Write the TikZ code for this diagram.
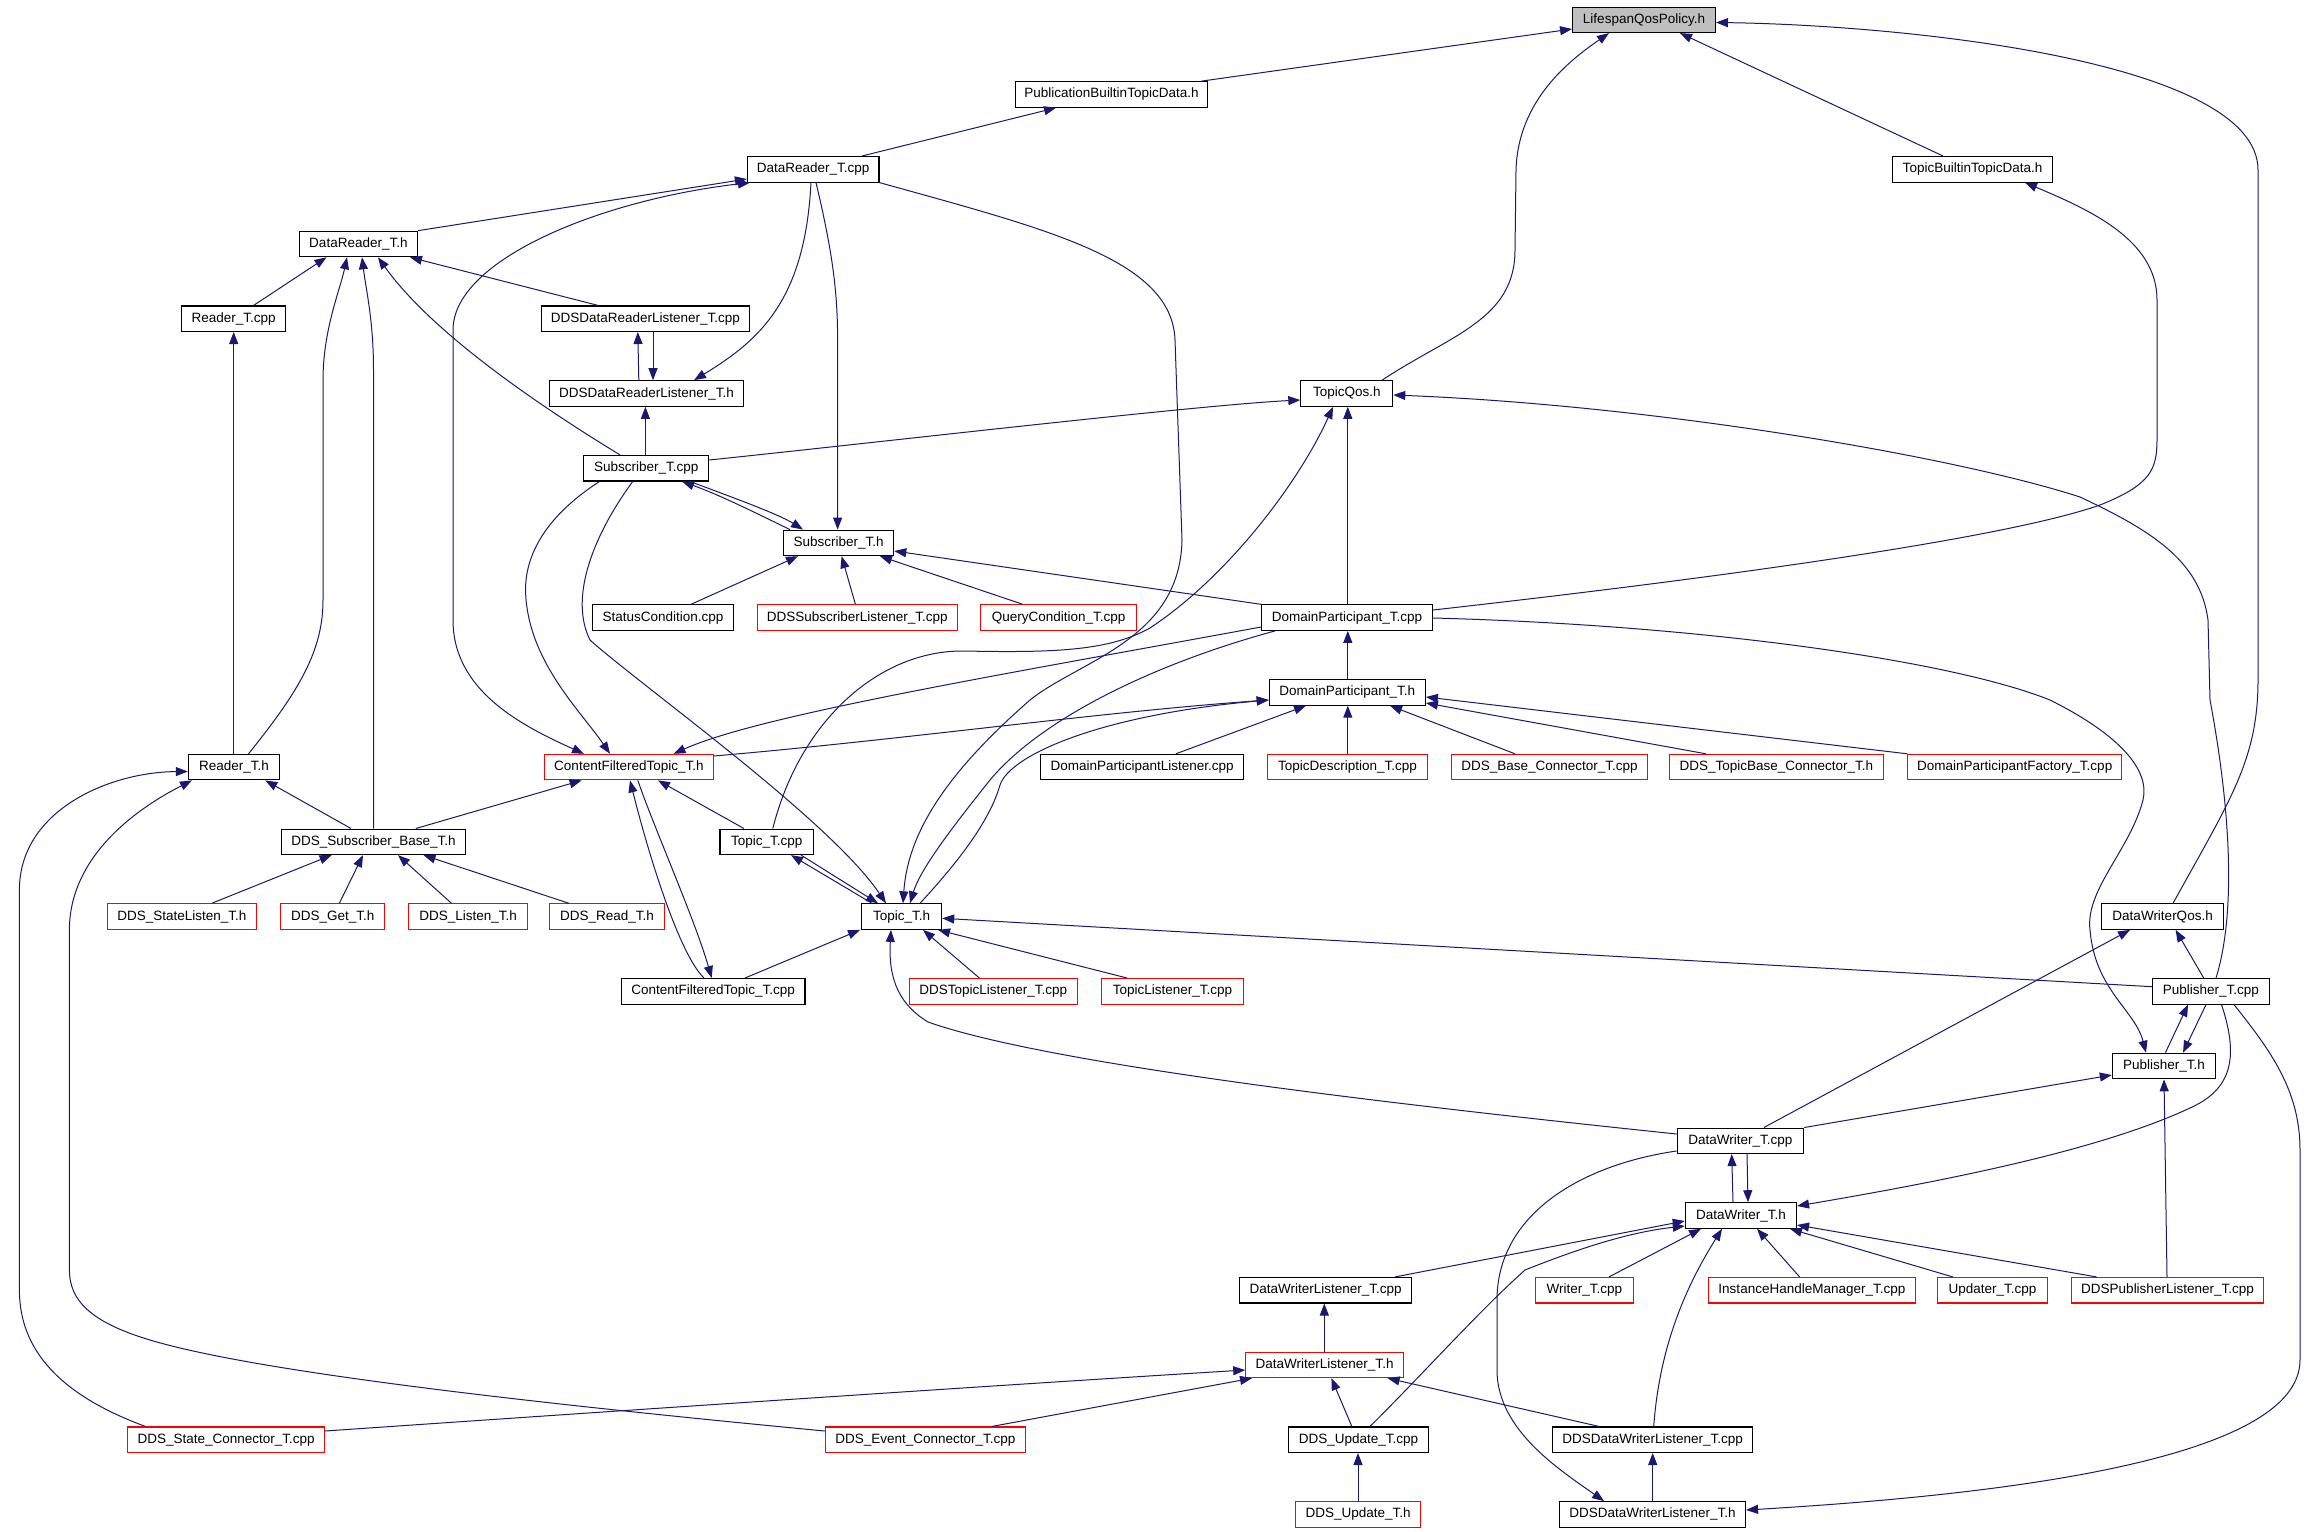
\documentclass[tikz,border=0pt]{standalone}
\usepackage{fontspec}
\setmainfont{Liberation Sans}
\usetikzlibrary{arrows.meta}
\definecolor{dblue}{RGB}{25,25,112}
\definecolor{rd}{RGB}{255,0,0}
\definecolor{lgray}{RGB}{191,191,191}
\tikzset{
 filebox/.style={draw=black, fill=white, line width=1.1pt, minimum height=25.5pt, inner sep=0pt, font=\fontsize{13.5}{15}\selectfont, text=black},
 redbox/.style={filebox, draw=rd},
 incl/.style={draw=dblue, line width=1pt, -{Triangle[length=12pt,width=9pt]}},
 incl2/.style={draw=dblue, line width=1pt, {Triangle[length=12pt,width=9pt]}-{Triangle[length=12pt,width=9pt]}},
}
\begin{document}
\begin{tikzpicture}[x=1pt,y=-1pt]
\fill[white] (0,0) rectangle (2320,1531);
\useasboundingbox (0,0) rectangle (2320,1531);
% nodes
\node[filebox,fill=lgray,minimum width=142.8pt] (life) at (1644,19.8) {LifespanQosPolicy.h};
\node[filebox,minimum width=191.8pt] (pub) at (1111.5,94.5) {PublicationBuiltinTopicData.h};
\node[filebox,minimum width=160.3pt] (tbt) at (1972.5,169.3) {TopicBuiltinTopicData.h};
\node[filebox,minimum width=131.5pt] (drcpp) at (813.2,169.3) {DataReader\_T.cpp};
\node[filebox,minimum width=117.8pt] (drh) at (358.4,244.0) {DataReader\_T.h};
\node[filebox,minimum width=104.1pt] (rcpp) at (233.7,318.7) {Reader\_T.cpp};
\node[filebox,minimum width=208.2pt] (ddrlcpp) at (645.4,318.7) {DDSDataReaderListener\_T.cpp};
\node[filebox,minimum width=193.9pt] (ddrlh) at (646.5,393.5) {DDSDataReaderListener\_T.h};
\node[filebox,minimum width=91.9pt] (tqos) at (1346.8,393.5) {TopicQos.h};
\node[filebox,minimum width=125pt] (subcpp) at (646.2,468.2) {Subscriber\_T.cpp};
\node[filebox,minimum width=110.2pt] (subh) at (838.6,542.9) {Subscriber\_T.h};
\node[filebox,minimum width=141.4pt] (statc) at (663,617.6) {StatusCondition.cpp};
\node[redbox,minimum width=200.3pt] (ddssl) at (857.3,617.6) {DDSSubscriberListener\_T.cpp};
\node[redbox,minimum width=155.6pt] (qc) at (1058.7,617.6) {QueryCondition\_T.cpp};
\node[filebox,minimum width=170.9pt] (dpcpp) at (1347,617.6) {DomainParticipant\_T.cpp};
\node[filebox,minimum width=156.1pt] (dph) at (1347.3,692.4) {DomainParticipant\_T.h};
\node[filebox,minimum width=91.3pt] (rh) at (234,767.1) {Reader\_T.h};
\node[redbox,minimum width=168.9pt] (cfth) at (628.9,767.1) {ContentFilteredTopic\_T.h};
\node[filebox,minimum width=203.1pt] (dpl) at (1142.2,767.1) {DomainParticipantListener.cpp};
\node[redbox,minimum width=159.7pt] (tdesc) at (1347.5,767.1) {TopicDescription\_T.cpp};
\node[redbox,minimum width=196.3pt] (dbc) at (1549.5,767.1) {DDS\_Base\_Connector\_T.cpp};
\node[redbox,minimum width=213.8pt] (dtbc) at (1776.4,767.1) {DDS\_TopicBase\_Connector\_T.h};
\node[redbox,minimum width=213.7pt] (dpf) at (2014.7,767.1) {DomainParticipantFactory\_T.cpp};
\node[filebox,minimum width=183.7pt] (dsb) at (373.5,841.8) {DDS\_Subscriber\_Base\_T.h};
\node[filebox,minimum width=93.7pt] (tcpp) at (766.8,841.8) {Topic\_T.cpp};
\node[redbox,minimum width=148.4pt] (dsl) at (181.9,916.6) {DDS\_StateListen\_T.h};
\node[redbox,minimum width=104.1pt] (dget) at (332.7,916.6) {DDS\_Get\_T.h};
\node[redbox,minimum width=118.9pt] (dlis) at (468.2,916.6) {DDS\_Listen\_T.h};
\node[redbox,minimum width=114.8pt] (dread) at (606.9,916.6) {DDS\_Read\_T.h};
\node[filebox,minimum width=80.1pt] (th) at (901.6,916.6) {Topic\_T.h};
\node[filebox,minimum width=122pt] (dwq) at (2162.6,916.6) {DataWriterQos.h};
\node[filebox,minimum width=183.5pt] (cftcpp) at (713.2,991.3) {ContentFilteredTopic\_T.cpp};
\node[redbox,minimum width=168.3pt] (dtl) at (993.2,991.3) {DDSTopicListener\_T.cpp};
\node[redbox,minimum width=142.4pt] (tl) at (1172.5,991.3) {TopicListener\_T.cpp};
\node[filebox,minimum width=116.3pt] (pcpp) at (2210.9,991.3) {Publisher\_T.cpp};
\node[filebox,minimum width=103.1pt] (ph) at (2163.9,1066.0) {Publisher\_T.h};
\node[filebox,minimum width=126.6pt] (dwcpp) at (1740.4,1140.8) {DataWriter\_T.cpp};
\node[filebox,minimum width=111.2pt] (dwh) at (1740.9,1215.5) {DataWriter\_T.h};
\node[filebox,minimum width=171.9pt] (dwlcpp) at (1325.6,1290.2) {DataWriterListener\_T.cpp};
\node[redbox,minimum width=98pt] (wcpp) at (1584.3,1290.2) {Writer\_T.cpp};
\node[redbox,minimum width=207.1pt] (ihm) at (1811.9,1290.2) {InstanceHandleManager\_T.cpp};
\node[redbox,minimum width=110.3pt] (upd) at (1992.5,1290.2) {Updater\_T.cpp};
\node[redbox,minimum width=191.9pt] (dpubl) at (2167.5,1290.2) {DDSPublisherListener\_T.cpp};
\node[redbox,minimum width=157.7pt] (dwlh) at (1324.6,1364.9) {DataWriterListener\_T.h};
\node[redbox,minimum width=196.9pt] (dsc) at (226.1,1439.7) {DDS\_State\_Connector\_T.cpp};
\node[redbox,minimum width=200pt] (dec) at (925.3,1439.7) {DDS\_Event\_Connector\_T.cpp};
\node[filebox,minimum width=139.8pt] (ducpp) at (1358.5,1439.7) {DDS\_Update\_T.cpp};
\node[filebox,minimum width=200pt] (ddwlcpp) at (1652.7,1439.7) {DDSDataWriterListener\_T.cpp};
\node[redbox,minimum width=125pt] (duh) at (1358.2,1514.4) {DDS\_Update\_T.h};
\node[filebox,minimum width=186.2pt] (ddwlh) at (1652.4,1514.4) {DDSDataWriterListener\_T.h};
% edges
\draw[incl] (1201,0 |- pub.north) -- (life.west |- 0,29);
\draw[incl] (1382,0 |- tqos.north) .. controls (1450,335) and (1515,320) .. (1515,250) -- (1516,170) .. controls (1518,100) and (1570,60) .. (1609,0 |- life.south);
\draw[incl] (1943,0 |- tbt.north) -- (1680,0 |- life.south);
\draw[incl] (2173,0 |- dwq.north) .. controls (2230,800) and (2258,760) .. (2258,680) -- (2258,170) .. controls (2258,60) and (1900,25) .. (life.east |- 0,22.5);
\draw[incl] (862,0 |- drcpp.north) -- (1056,0 |- pub.south);
\draw[incl] (dpcpp.east |- 0,610) .. controls (1700,580) and (2000,540) .. (2100,505) .. controls (2150,485) and (2157,470) .. (2157,440) -- (2157,300) .. controls (2157,240) and (2090,210) .. (2025,0 |- tbt.south);
\draw[incl] (drh.north east) -- (drcpp.west |- 0,179);
\draw[incl2] (584,0 |- cfth.north) .. controls (520,725) and (453,690) .. (453,620) -- (453,330) .. controls (453,260) and (600,200) .. (750,0 |- drcpp.south);
\draw[incl] (811,0 |- drcpp.south) .. controls (805,300) and (760,340) .. (694,0 |- ddrlh.north);
\draw[incl] (816,0 |- drcpp.south) .. controls (832,250) and (837.6,290) .. (837.6,340) -- (837.6,0 |- subh.north);
\draw[incl] (drcpp.south east) .. controls (1050,230) and (1172,260) .. (1175,340) -- (1182,540) .. controls (1180,640) and (1080,660) .. (1030,700) .. controls (950,770) and (908,830) .. (903,0 |- th.north);
\draw[incl] (233.7,0 |- rh.north) -- (233.7,0 |- rcpp.south);
\draw[incl] (253.6,0 |- rcpp.north) -- (326.5,0 |- drh.south);
\draw[incl] (248.5,0 |- rh.north) .. controls (300,690) and (323,650) .. (323,600) -- (323,380) .. controls (323,330) and (340,290) .. (347,0 |- drh.south);
\draw[incl] (373.5,0 |- dsb.north) -- (373.5,370) .. controls (373.5,320) and (366,290) .. (362,0 |- drh.south);
\draw[incl] (620,0 |- subcpp.north) .. controls (530,400) and (430,330) .. (378,0 |- drh.south);
\draw[incl] (598,0 |- ddrlcpp.north) -- (410,0 |- drh.south);
\draw[incl] (638.8,0 |- ddrlh.north) -- (637.8,0 |- ddrlcpp.south);
\draw[incl] (653,0 |- ddrlcpp.south) -- (653,0 |- ddrlh.north);
\draw[incl] (645.4,0 |- subcpp.north) -- (645.4,0 |- ddrlh.south);
\draw[incl] (subcpp.east |- 0,460) .. controls (900,440) and (1200,405) .. (tqos.west |- 0,400);
\draw[incl] (690,0 |- subcpp.south) .. controls (740,500) and (780,515) .. (803,0 |- subh.north);
\draw[incl] (790,0 |- subh.north) .. controls (760,515) and (720,495) .. (682,0 |- subcpp.south);
\draw[incl] (599.5,0 |- subcpp.south) .. controls (540,520) and (525.5,560) .. (525.5,590) .. controls (527,660) and (580,710) .. (610,0 |- cfth.north);
\draw[incl] (632.7,0 |- subcpp.south) .. controls (590,540) and (570,600) .. (590,640) .. controls (640,685) and (830,820) .. (886,0 |- th.north);
\draw[incl] (691,0 |- statc.north) -- (798,0 |- subh.south);
\draw[incl] (855.4,0 |- ddssl.north) -- (841.6,0 |- subh.south);
\draw[incl] (1022.8,0 |- qc.north) -- (880,0 |- subh.south);
\draw[incl] (dpcpp.north west) -- (subh.east |- 0,551);
\draw[incl] (1347.8,0 |- dpcpp.north) -- (1347.8,0 |- tqos.south);
\draw[incl] (772.8,0 |- tcpp.north) .. controls (800,720) and (880,650) .. (964,651) .. controls (1060,653) and (1110,650) .. (1150,628) .. controls (1230,575) and (1300,480) .. (1333,0 |- tqos.south);
\draw[incl] (dpcpp.west |- 0,627) .. controls (1000,675) and (760,715) .. (673.5,0 |- cfth.north);
\draw[incl] (1275,0 |- dpcpp.south) .. controls (1150,665) and (1040,720) .. (990,780) .. controls (950,830) and (920,870) .. (910,0 |- th.north);
\draw[incl] (1347.8,0 |- dph.north) -- (1347.8,0 |- dpcpp.south);
\draw[incl] (dpcpp.east |- 0,618) .. controls (1700,625) and (1950,660) .. (2050,700) .. controls (2120,735) and (2150,770) .. (2143,800) .. controls (2130,850) and (2085,890) .. (2090,930) .. controls (2095,990) and (2135,1010) .. (2146,0 |- ph.north);
\draw[incl] (1175.8,0 |- dpl.north) -- (1306,0 |- dph.south);
\draw[incl] (1347.8,0 |- tdesc.north) -- (1347.8,0 |- dph.south);
\draw[incl] (1515,0 |- dbc.north) -- (1390,0 |- dph.south);
\draw[incl] (1706,0 |- dtbc.north) -- (dph.east |- 0,703);
\draw[incl] (dpf.north west) -- (dph.east |- 0,697);
\draw[incl] (cfth.east |- 0,756) .. controls (900,740) and (1100,712) .. (dph.west |- 0,700);
\draw[incl] (920,0 |- th.north) .. controls (960,860) and (990,820) .. (1000,785) .. controls (1010,755) and (1100,715) .. (dph.west |- 0,700);
\draw[incl] (351,0 |- dsb.north) -- (265.3,0 |- rh.south);
\draw[incl] (145.4,0 |- dsc.north) .. controls (60,1395) and (19.4,1350) .. (19.4,1290) -- (19.4,890) .. controls (19.4,810) and (110,772) .. (rh.west |- 0,771.5);
\draw[incl] (dec.west |- 0,1431) .. controls (500,1400) and (250,1370) .. (150,1340) .. controls (90,1322) and (69.4,1300) .. (69.4,1270) -- (69.4,930) .. controls (69.4,860) and (130,812) .. (192,0 |- rh.south);
\draw[incl] (415.8,0 |- dsb.north) -- (581.6,0 |- cfth.south);
\draw[incl] (743.9,0 |- tcpp.north) -- (658,0 |- cfth.south);
\draw[incl] (637.8,0 |- cfth.south) .. controls (655,830) and (695,920) .. (711.7,0 |- cftcpp.north);
\draw[incl] (704,0 |- cftcpp.north) .. controls (680,955) and (650,860) .. (630,0 |- cfth.south);
\draw[incl] (211.7,0 |- dsl.north) -- (331.6,0 |- dsb.south);
\draw[incl] (339.3,0 |- dget.north) -- (363,0 |- dsb.south);
\draw[incl] (451.5,0 |- dlis.north) -- (398,0 |- dsb.south);
\draw[incl] (568.9,0 |- dread.north) -- (423.5,0 |- dsb.south);
\draw[incl] (872,0 |- th.north) -- (791,0 |- tcpp.south);
\draw[incl] (801,0 |- tcpp.south) -- (878,0 |- th.north);
\draw[incl] (745,0 |- cftcpp.north) -- (860,0 |- th.south);
\draw[incl] (979.4,0 |- dtl.north) -- (923,0 |- th.south);
\draw[incl] (1127,0 |- tl.north) -- (938,0 |- th.south);
\draw[incl] (pcpp.west |- 0,986.7) -- (th.east |- 0,918.3);
\draw[incl] (dwcpp.west |- 0,1134) .. controls (1400,1105) and (1050,1065) .. (928,1022) .. controls (900,1005) and (888,980) .. (891,0 |- th.south);
\draw[incl] (2216,0 |- pcpp.north) .. controls (2240,900) and (2225,780) .. (2210,700) -- (2208,620) .. controls (2200,560) and (2150,530) .. (2080,497) .. controls (1950,455) and (1650,405) .. (tqos.east |- 0,395);
\draw[incl] (2203.7,0 |- pcpp.north) -- (2175.6,0 |- dwq.south);
\draw[incl] (1763.9,0 |- dwcpp.north) -- (2130,0 |- dwq.south);
\draw[incl] (2165.4,0 |- ph.north) -- (2188,0 |- pcpp.south);
\draw[incl] (2206,0 |- pcpp.south) -- (2183,0 |- ph.north);
\draw[incl] (2221.5,0 |- pcpp.south) .. controls (2240,1060) and (2230,1090) .. (2190,1108) .. controls (2100,1150) and (1950,1180) .. (dwh.east |- 0,1206);
\draw[incl] (2234,0 |- pcpp.south) .. controls (2270,1050) and (2300,1090) .. (2300,1150) -- (2300,1360) .. controls (2300,1460) and (2000,1495) .. (ddwlh.east |- 0,1510);
\draw[incl] (dwcpp.north east) -- (ph.west |- 0,1075);
\draw[incl] (2167,0 |- dpubl.north) -- (2164,0 |- ph.south);
\draw[incl] (1733,0 |- dwh.north) -- (1731.7,0 |- dwcpp.south);
\draw[incl] (1747,0 |- dwcpp.south) -- (1748,0 |- dwh.north);
\draw[incl] (dwcpp.west |- 0,1151) .. controls (1580,1165) and (1497,1215) .. (1497,1300) -- (1497,1370) .. controls (1497,1430) and (1560,1470) .. (1604,0 |- ddwlh.north);
\draw[incl] (1395,0 |- dwlcpp.north) -- (dwh.west |- 0,1221);
\draw[incl] (1609,0 |- wcpp.north) -- (1701,0 |- dwh.south);
\draw[incl] (1799.6,0 |- ihm.north) -- (1757,0 |- dwh.south);
\draw[incl] (1952.7,0 |- upd.north) -- (1790,0 |- dwh.south);
\draw[incl] (2096.5,0 |- dpubl.north) -- (dwh.east |- 0,1225);
\draw[incl] (1370,0 |- ducpp.north) .. controls (1420,1377) and (1480,1310) .. (1525,1270) .. controls (1580,1248) and (1630,1232) .. (dwh.west |- 0,1226);
\draw[incl] (1653.7,0 |- ddwlcpp.north) .. controls (1660,1340) and (1690,1280) .. (1722,0 |- dwh.south);
\draw[incl] (1324.3,0 |- dwlh.north) -- (1324.3,0 |- dwlcpp.south);
\draw[incl] (dsc.east |- 0,1431) .. controls (600,1412) and (1000,1385) .. (dwlh.west |- 0,1370);
\draw[incl] (992,0 |- dec.north) -- (1252,0 |- dwlh.south);
\draw[incl] (1351.8,0 |- ducpp.north) -- (1331.4,0 |- dwlh.south);
\draw[incl] (1599,0 |- ddwlcpp.north) -- (1387.6,0 |- dwlh.south);
\draw[incl] (1358,0 |- duh.north) -- (1358,0 |- ducpp.south);
\draw[incl] (1652.7,0 |- ddwlh.north) -- (1652.7,0 |- ddwlcpp.south);
\end{tikzpicture}
\end{document}
